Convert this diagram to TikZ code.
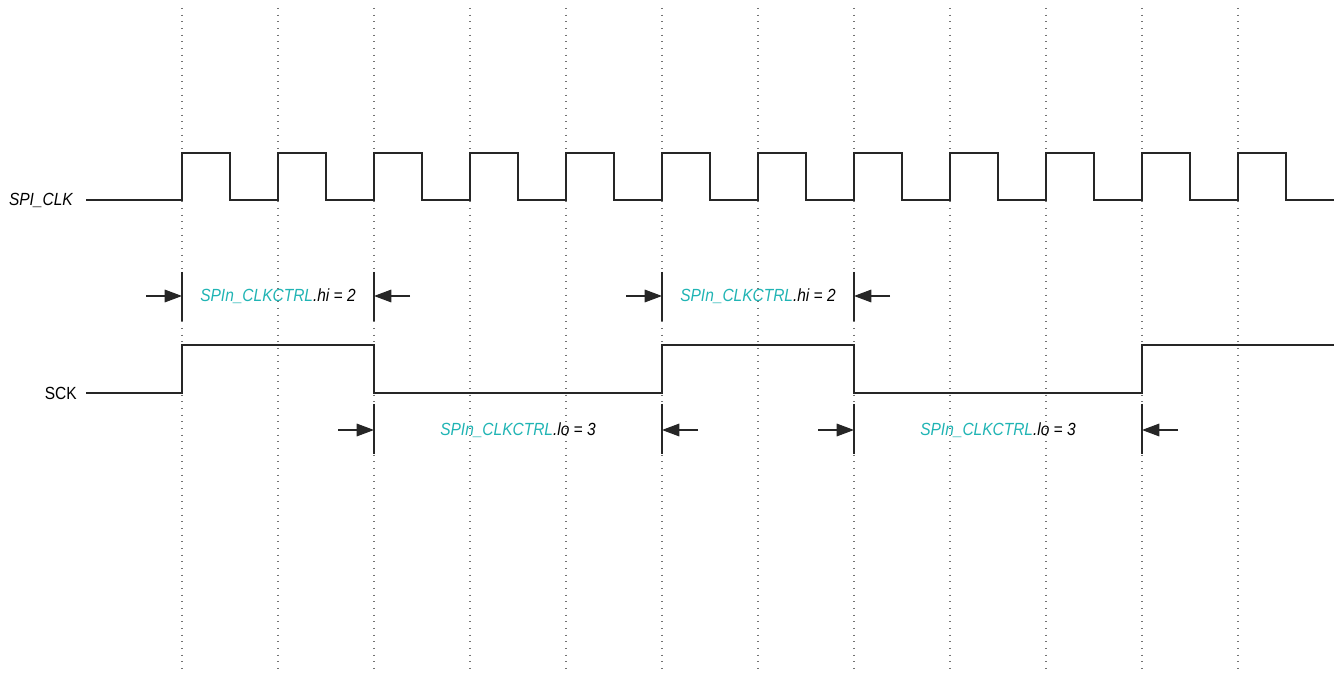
\documentclass[tikz,border=0pt]{standalone}
\usepackage{fontspec}
\setmainfont{Liberation Sans}[FakeStretch=0.88]
\usetikzlibrary{arrows.meta}
\definecolor{regcyan}{RGB}{32,180,180}
\tikzset{
  wave/.style={line width=1.2pt, draw=black!85},
  grid line/.style={draw=black!55, line width=0.8pt, dash pattern=on 0.8pt off 4.2pt},
  tick/.style={line width=1pt, draw=black!85},
  dim arrow/.style={-{Triangle[length=13pt,width=9.5pt]}, line width=0.9pt, draw=black!85},
  lbl/.style={font=\fontsize{13.2}{16}\selectfont\itshape, inner sep=0pt},
}
\begin{document}
\begin{tikzpicture}[x=0.75pt, y=-0.75pt]
  \useasboundingbox (0,0) rectangle (1336,673);
  % time grid
  \foreach \x in {182,278,...,1238}
    \draw[grid line] (\x,8) -- (\x,670);

  % signal names
  \node[lbl, anchor=east] (spiclk) at (73,200) {SPI\_CLK};
  \node[font=\fontsize{13.2}{16}\selectfont, inner sep=0pt, anchor=east] (sck) at (77,393) {SCK};

  % waveforms
  \draw[wave] (spiclk.east) ++(13,0) -- (182,200)
    foreach \k in {0,...,11} { -- ++(0,-47) -- ++(48,0) -- ++(0,47) -- ++(48,0) };
  \draw[wave] (sck.east) ++(9,0) -- (182,393) -- (182,345) -- (374,345) -- (374,393)
    -- (662,393) -- (662,345) -- (854,345) -- (854,393) -- (1142,393) -- (1142,345) -- (1334,345);

  % high time
  \foreach \a/\b/\n in {182/374/hiA, 662/854/hiB} {
    \coordinate (\n-l) at (\a,296);
    \coordinate (\n-r) at (\b,296);
    \draw[tick] (\a,272) -- (\a,321);
    \draw[tick] (\b,272) -- (\b,321);
    \draw[dim arrow] ([xshift=-27pt]\n-l) -- (\n-l);
    \draw[dim arrow] ([xshift=27pt]\n-r) -- (\n-r);
    \node[lbl] (\n) at ({(\a+\b)/2},296) {\textcolor{regcyan}{SPIn\_CLKCTRL}.hi = 2};
  }

  % low time
  \foreach \a/\b/\n in {374/662/loA, 854/1142/loB} {
    \coordinate (\n-l) at (\a,430);
    \coordinate (\n-r) at (\b,430);
    \draw[tick] (\a,404) -- (\a,454);
    \draw[tick] (\b,404) -- (\b,454);
    \draw[dim arrow] ([xshift=-27pt]\n-l) -- (\n-l);
    \draw[dim arrow] ([xshift=27pt]\n-r) -- (\n-r);
    \node[lbl] (\n) at ({(\a+\b)/2},430) {\textcolor{regcyan}{SPIn\_CLKCTRL}.lo = 3};
  }
\end{tikzpicture}
\end{document}
